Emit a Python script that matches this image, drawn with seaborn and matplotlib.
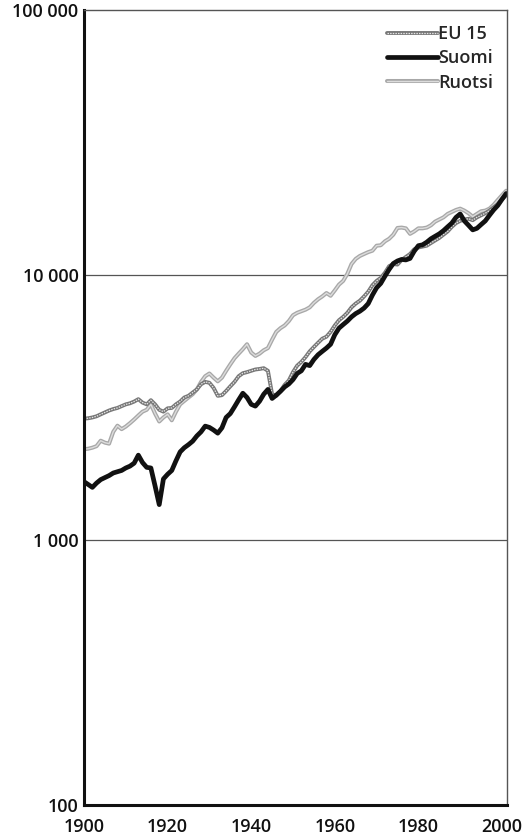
import numpy as np
import pandas as pd
import seaborn as sns
import matplotlib.pyplot as plt
import matplotlib.patheffects as pe
from matplotlib.ticker import FixedLocator, MultipleLocator

# BKT per asukas, 1900-2001 (logaritminen asteikko)
vuodet = list(range(1900, 2002))

suomi = [1660, 1620, 1580, 1640, 1690, 1720, 1750, 1790, 1810, 1830,
         1870, 1900, 1950, 2090, 1960, 1880, 1870, 1600, 1360, 1700,
         1770, 1830, 1990, 2150, 2230, 2290, 2360, 2470, 2560, 2690,
         2660, 2600, 2530, 2650, 2900, 3000, 3180, 3380, 3580, 3450,
         3250, 3200, 3340, 3550, 3700, 3420, 3520, 3640, 3780, 3880,
         4030, 4250, 4350, 4600, 4550, 4800, 5000, 5150, 5300, 5480,
         5950, 6300, 6500, 6700, 6950, 7150, 7300, 7500, 7800, 8400,
         8950, 9300, 9900, 10500, 11050, 11300, 11450, 11400, 11550, 12300,
         12900, 13000, 13300, 13700, 14000, 14300, 14700, 15200, 15700, 16500,
         17000, 16000, 15400, 14800, 15000, 15500, 16000, 16800, 17600, 18300,
         19300, 20300]

eu15 = [2870, 2880, 2900, 2930, 2980, 3030, 3080, 3120, 3150, 3200,
        3250, 3280, 3330, 3400, 3300, 3250, 3370, 3250, 3100, 3050,
        3140, 3150, 3250, 3330, 3450, 3500, 3600, 3700, 3870, 3950,
        3920, 3750, 3500, 3520, 3650, 3800, 3950, 4150, 4260, 4300,
        4350, 4400, 4420, 4450, 4350, 3550, 3500, 3650, 3850, 4000,
        4300, 4550, 4700, 4900, 5150, 5350, 5550, 5750, 5850, 6100,
        6450, 6750, 6950, 7200, 7550, 7800, 8000, 8300, 8650, 9150,
        9500, 9750, 10200, 10800, 11000, 10950, 11400, 11700, 12000, 12500,
        12700, 12800, 12900, 13200, 13500, 13800, 14200, 14600, 15200, 15700,
        16000, 16200, 16300, 16100, 16500, 16800, 17100, 17500, 18000, 18500,
        19300, 20000]

ruotsi = [2200, 2210, 2230, 2260, 2370, 2330, 2310, 2560, 2700, 2620,
          2680, 2760, 2850, 2950, 3050, 3100, 3250, 3000, 2800, 2900,
          2980, 2830, 3050, 3250, 3350, 3450, 3550, 3700, 3950, 4150,
          4250, 4100, 3970, 4100, 4350, 4600, 4850, 5050, 5250, 5480,
          5100, 4950, 5050, 5200, 5300, 5700, 6100, 6300, 6450, 6700,
          7050, 7200, 7300, 7400, 7550, 7850, 8100, 8300, 8550, 8350,
          8750, 9200, 9500, 10100, 11000, 11500, 11800, 12000, 12200, 12350,
          12900, 12950, 13400, 13700, 14200, 15050, 15100, 15000, 14300, 14600,
          15000, 15000, 15100, 15400, 15900, 16200, 16500, 17000, 17300, 17600,
          17800, 17500, 17100, 16600, 17000, 17400, 17500, 17800, 18400, 19200,
          20000, 20800]

df = pd.DataFrame({"Vuosi": vuodet, "EU 15": eu15, "Suomi": suomi, "Ruotsi": ruotsi})

sns.set_style("white")
plt.rcParams["font.family"] = ["Open Sans", "DejaVu Sans"]
plt.rcParams["font.weight"] = 600

fig = plt.figure(figsize=(5.27, 8.38), dpi=100)
ax = fig.add_axes([84 / 527, 1 - 805 / 838, (507 - 84) / 527, (805 - 10) / 838])

# Ruotsi: vaalea harmaa kaksoisviiva
sns.lineplot(data=df, x="Vuosi", y="Ruotsi", ax=ax, color="#dcdcdc", linewidth=1.0,
             label="Ruotsi",
             path_effects=[pe.Stroke(linewidth=2.9, foreground="#a8a8a8"), pe.Normal()])

# EU 15: harmaa viiva + vaalea pisteviiva päälle
sns.lineplot(data=df, x="Vuosi", y="EU 15", ax=ax, color="#777777", linewidth=2.8,
             label="_eu_pohja")
sns.lineplot(data=df, x="Vuosi", y="EU 15", ax=ax, color="#e6e6e6", linewidth=0.9,
             linestyle=(0, (1.2, 0.9)), label="_eu_pisteet")

# Suomi: paksu musta
sns.lineplot(data=df, x="Vuosi", y="Suomi", ax=ax, color="#111111", linewidth=3.4,
             label="Suomi")

ax.set_yscale("log")
ax.set_ylim(100, 100000)
ax.set_xlim(1900, 2001.2)

ax.yaxis.set_major_locator(FixedLocator([100, 1000, 10000, 100000]))
ax.yaxis.set_minor_locator(FixedLocator([]))
ax.set_yticklabels(["100", "1 000", "10 000", "100 000"])
ax.xaxis.set_major_locator(FixedLocator([1900, 1920, 1940, 1960, 1980, 2000]))
ax.xaxis.set_minor_locator(MultipleLocator(5))
ax.set_xticklabels(["1900", "1920", "1940", "1960", "1980", "2000"])

ax.tick_params(axis="y", length=0, pad=4, labelsize=13, labelcolor="#111111")
ax.tick_params(axis="x", which="both", direction="in", length=6, width=1.5,
               color="#111111", pad=9, labelsize=13, labelcolor="#111111")

for y in [1000, 10000]:
    ax.axhline(y, color="#555555", linewidth=0.9, zorder=0)

ax.spines["left"].set_linewidth(2.2)
ax.spines["left"].set_color("#111111")
ax.spines["bottom"].set_linewidth(2.2)
ax.spines["bottom"].set_color("#111111")
for s in ["top", "right"]:
    ax.spines[s].set_linewidth(1.0)
    ax.spines[s].set_color("#555555")

ax.set_xlabel("")
ax.set_ylabel("")

viivat = {l.get_label(): l for l in ax.get_lines()}
h = [(viivat["_eu_pohja"], viivat["_eu_pisteet"]), viivat["Suomi"], viivat["Ruotsi"]]
ax.legend(h, ["EU 15", "Suomi", "Ruotsi"], loc="upper right", frameon=False, fontsize=13,
          handlelength=2.8, handletextpad=0.05, labelspacing=0.35,
          borderaxespad=0.0, bbox_to_anchor=(0.985, 0.99))

fig.savefig("out.png", dpi=100)
